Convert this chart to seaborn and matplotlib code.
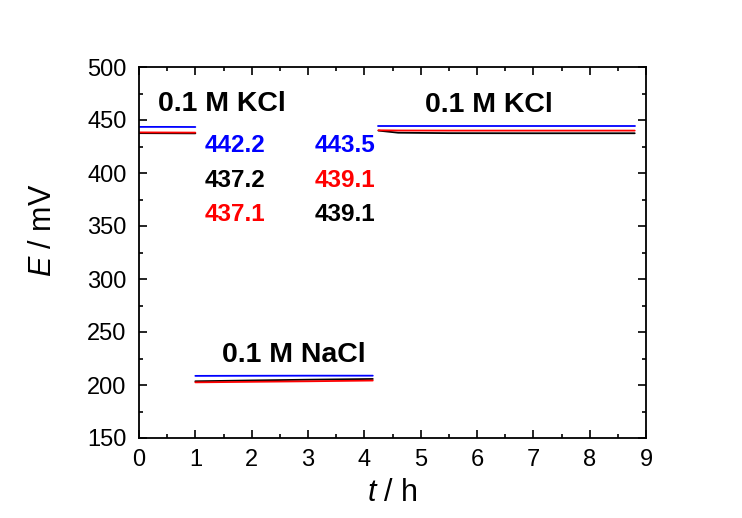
import matplotlib
matplotlib.use("Agg")
import matplotlib.pyplot as plt
import seaborn as sns
import pandas as pd
from matplotlib.ticker import MultipleLocator

# ---- data ----
series_names = ["black", "red", "blue"]
series_colors = {"black": "#000000", "red": "#ff0000", "blue": "#0000ff"}

# segment 1: 0.1 M KCl
t_seg1 = [0.0, 0.5, 1.0]
black_seg1 = [437.6, 437.5, 437.4]
red_seg1 = [438.3, 438.2, 438.1]
blue_seg1 = [443.5, 443.5, 443.4]

# segment 2: 0.1 M NaCl
t_seg2 = [1.0, 2.0, 3.0, 4.15]
black_seg2 = [203.5, 204.3, 205.0, 205.7]
red_seg2 = [202.5, 203.0, 203.5, 204.2]
blue_seg2 = [208.6, 208.7, 208.8, 208.8]

# segment 3: 0.1 M KCl
t_seg3 = [4.25, 4.6, 5.5, 7.0, 8.8]
black_seg3 = [440.0, 438.0, 437.6, 437.5, 437.5]
red_seg3 = [440.3, 440.1, 440.0, 440.0, 440.0]
blue_seg3 = [444.3, 444.3, 444.3, 444.3, 444.3]

labels_left = ["442.2", "437.2", "437.1"]
labels_left_colors = ["blue", "black", "red"]
labels_right = ["443.5", "439.1", "439.1"]
labels_right_colors = ["blue", "red", "black"]

xticks = list(range(0, 10))
yticks = list(range(150, 501, 50))

rows = []
for seg, t, vals in [
    (1, t_seg1, {"black": black_seg1, "red": red_seg1, "blue": blue_seg1}),
    (2, t_seg2, {"black": black_seg2, "red": red_seg2, "blue": blue_seg2}),
    (3, t_seg3, {"black": black_seg3, "red": red_seg3, "blue": blue_seg3}),
]:
    for name in series_names:
        for ti, v in zip(t, vals[name]):
            rows.append({"t": ti, "E": v, "series": name, "seg": seg})
df = pd.DataFrame(rows)

# ---- plot ----
sns.set_theme(style="ticks")
plt.rcParams["font.family"] = ["Liberation Sans", "DejaVu Sans"]
plt.rcParams["text.color"] = "black"
plt.rcParams["axes.labelcolor"] = "black"
plt.rcParams["xtick.color"] = "black"
plt.rcParams["ytick.color"] = "black"
plt.rcParams["mathtext.fontset"] = "custom"
plt.rcParams["mathtext.it"] = "Liberation Sans:italic"
plt.rcParams["mathtext.rm"] = "Liberation Sans"

fig = plt.figure(figsize=(7.42, 5.18), dpi=100)
ax = fig.add_axes([139 / 742, 1 - 438 / 518, (646 - 139) / 742, (438 - 67) / 518])

sns.lineplot(data=df, x="t", y="E", hue="series", units="seg", estimator=None,
             hue_order=series_names, palette=series_colors, linewidth=1.3,
             legend=False, ax=ax, sort=False)

ax.set_xlim(0, 9)
ax.set_ylim(150, 500)
ax.set_xticks(xticks)
ax.set_yticks(yticks)
ax.xaxis.set_minor_locator(MultipleLocator(0.5))
ax.yaxis.set_minor_locator(MultipleLocator(25))
ax.tick_params(which="both", direction="in", top=True, right=True, width=1.2,
               colors="black")
ax.tick_params(which="major", length=6, labelsize=17)
ax.tick_params(axis="y", which="major", pad=9)
ax.tick_params(axis="x", which="major", pad=8)
ax.tick_params(which="minor", length=3)
for sp in ax.spines.values():
    sp.set_linewidth(1.3)
    sp.set_color("black")

ax.set_xlabel(r"$t$ / h", fontsize=22)
ax.set_ylabel(r"$E$ / mV", fontsize=22)
ax.xaxis.set_label_coords(0.5, -0.108)
ax.yaxis.set_label_coords(-0.16, 0.56)

ax.text(0.34, 465, "0.1 M KCl", fontsize=20.5, fontweight="bold", va="center", ha="left")
ax.text(5.08, 464, "0.1 M KCl", fontsize=20.5, fontweight="bold", va="center", ha="left")
ax.text(1.47, 228, "0.1 M NaCl", fontsize=20.5, fontweight="bold", va="center", ha="left")

ys = [425.5, 392.5, 360.4]
for lab, c, y in zip(labels_left, labels_left_colors, ys):
    ax.text(1.17, y, lab, color=series_colors[c], fontsize=17.5, fontweight="bold", va="center", ha="left")
for lab, c, y in zip(labels_right, labels_right_colors, ys):
    ax.text(3.12, y, lab, color=series_colors[c], fontsize=17.5, fontweight="bold", va="center", ha="left")

fig.savefig("out.png", dpi=100)
